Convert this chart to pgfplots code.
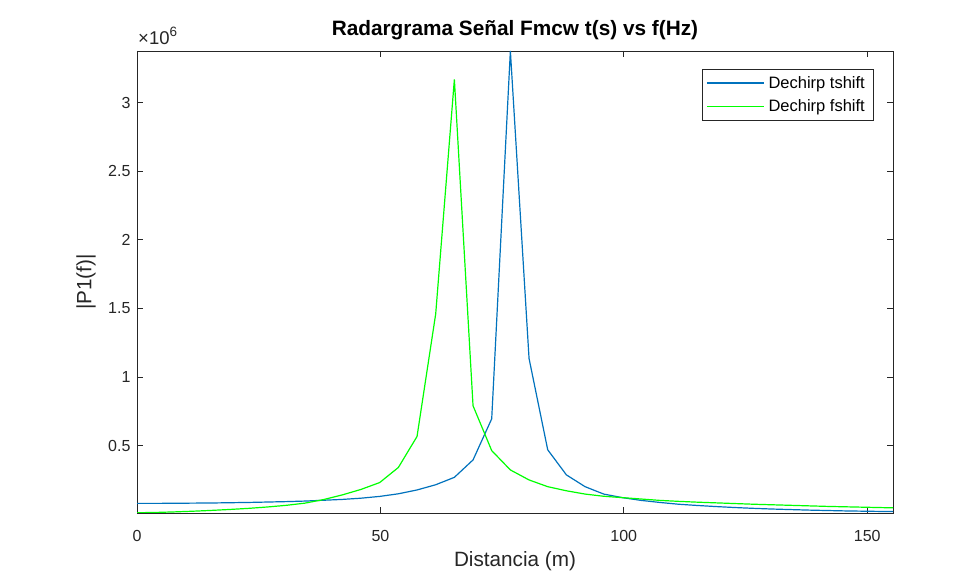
\documentclass[border=0pt]{standalone}
\usepackage{fontspec}
\setmainfont{Liberation Sans}
\usepackage{pgfplots}
\usepackage{pgfplotstable}
\pgfplotsset{compat=1.18}
\definecolor{mblue}{rgb}{0,0.447,0.741}
\definecolor{mgreen}{rgb}{0,1,0}
\definecolor{axgray}{rgb}{0.15,0.15,0.15}
\pgfplotstableread{
x y
0.000 0.078
3.835 0.078
7.670 0.079
11.505 0.080
15.340 0.081
19.175 0.083
23.010 0.085
26.845 0.088
30.680 0.091
34.515 0.095
38.350 0.101
42.185 0.107
46.020 0.116
49.855 0.129
53.690 0.148
57.525 0.176
61.360 0.214
65.195 0.268
69.030 0.395
72.865 0.695
76.700 3.377
80.535 1.135
84.370 0.469
88.205 0.286
92.040 0.200
95.875 0.146
99.710 0.120
103.545 0.100
107.380 0.085
111.215 0.072
115.050 0.063
118.885 0.055
122.720 0.048
126.555 0.042
130.390 0.037
134.225 0.033
138.060 0.029
141.895 0.026
145.730 0.023
149.565 0.021
153.400 0.019
155.300 0.019
}\tshift
\pgfplotstableread{
x y
0.000 0.010
3.835 0.012
7.670 0.016
11.505 0.021
15.340 0.027
19.175 0.034
23.010 0.042
26.845 0.052
30.680 0.064
34.515 0.080
38.350 0.106
42.185 0.140
46.020 0.180
49.855 0.230
53.690 0.340
57.525 0.566
61.360 1.460
65.195 3.170
69.030 0.790
72.865 0.463
76.700 0.322
80.535 0.249
84.370 0.200
88.205 0.170
92.040 0.146
95.875 0.130
99.710 0.120
103.545 0.110
107.380 0.100
111.215 0.093
115.050 0.087
118.885 0.082
122.720 0.077
126.555 0.072
130.390 0.068
134.225 0.064
138.060 0.060
141.895 0.056
145.730 0.053
149.565 0.050
153.400 0.047
155.300 0.046
}\fshift
\begin{document}
\begin{tikzpicture}[x=1pt,y=1pt]
\fill[white] (0,0) rectangle (978,575);
\useasboundingbox (0,0) rectangle (978,575);
\begin{axis}[
  at={(137pt,62pt)}, anchor=south west,
  width=756pt, height=462pt, scale only axis,
  xmin=0, xmax=155.3, ymin=0.008, ymax=3.377,
  xtick={0,50,100,150}, ytick={0.5,1,1.5,2,2.5,3},
  scaled ticks=false,
  tick align=inside, major tick length=6pt,
  axis line style={axgray, line width=0.7pt},
  every tick/.style={axgray, line width=0.7pt},
  tick label style={font=\fontsize{16}{19}\selectfont, text=axgray},
  xticklabel style={yshift=-14pt},
  yticklabel style={xshift=-3pt},
  /pgf/number format/assume math mode=true,
  title={Radargrama Señal Fmcw t(s) vs f(Hz)},
  title style={font=\fontsize{20.8}{24}\bfseries\selectfont, at={(axis description cs:0.5,1)}, anchor=base, yshift=9pt, text=black},
  xlabel={Distancia (m)},
  xlabel style={font=\fontsize{20.7}{24}\selectfont, at={(axis description cs:0.5,0)}, anchor=base, yshift=-53.5pt, text=axgray},
  ylabel={|P1(f)|},
  ylabel style={font=\fontsize{20.7}{24}\selectfont, at={(axis description cs:-0.0675,0.5)}, anchor=center, text=axgray},
  legend style={at={(axis description cs:1,1)}, anchor=north east, xshift=-20pt, yshift=-18pt,
     draw=axgray, font=\fontsize{16.5}{19}\selectfont,
     inner xsep=4pt, inner ysep=5pt, row sep=6pt,
     nodes={inner ysep=2pt, inner xsep=4pt, text=black}},
  legend cell align=left,
  legend image code/.code={\draw[line width=1.2pt,#1] (0pt,0pt) -- (57pt,0pt);},
]
\addplot[color=mblue, line width=1.2pt] table[x=x,y=y] {\tshift};
\addlegendentry{Dechirp tshift}
\addplot[color=mgreen, line width=1.2pt] table[x=x,y=y] {\fshift};
\addlegendentry{Dechirp fshift}
\end{axis}
\node[anchor=base west, font=\fontsize{18.5}{20}\selectfont, text=axgray, inner sep=0pt] at (138,530) {×10\raisebox{0.45em}{\fontsize{13.5}{14}\selectfont 6}};
\end{tikzpicture}
\end{document}
